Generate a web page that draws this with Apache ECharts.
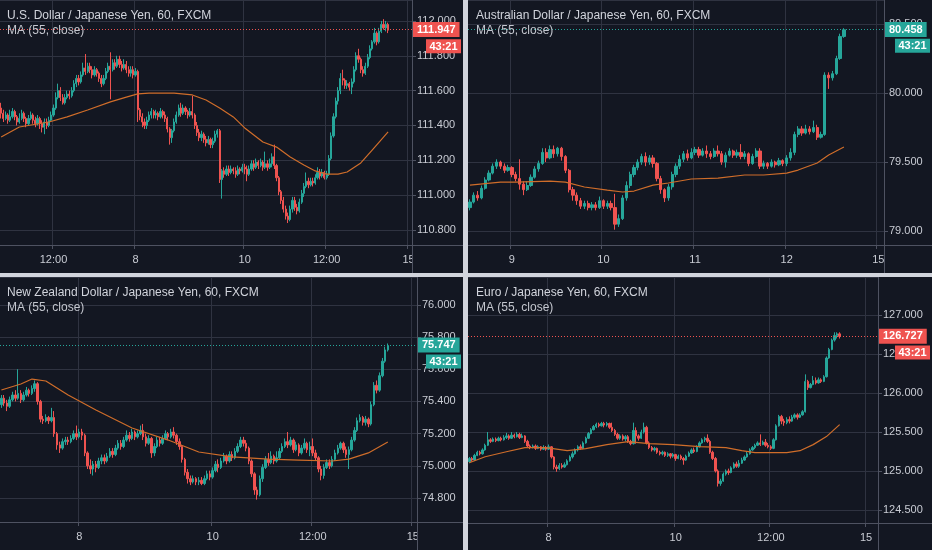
<!DOCTYPE html>
<html><head><meta charset="utf-8">
<script src="https://cdn.jsdelivr.net/npm/echarts@6/dist/echarts.min.js"></script>
<style>html,body{margin:0;padding:0;background:#131722;}#c{width:932px;height:550px;}</style>
</head><body><div id="c"></div>
<script>
// ---------- DATA ----------
const countdown = '43:21';
const maLabel = 'MA (55, close)';

const usdTitle = 'U.S. Dollar / Japanese Yen, 60, FXCM';
const usdBars = 181;
const usdTickIdx = [23, 59, 107, 143, 179];
const usdTickTxt = ['12:00', '8', '10', '12:00', '15'];
const usdCandles = [
[111.50,111.47,111.44,111.53],[111.47,111.44,111.42,111.49],[111.44,111.46,111.43,111.48],[111.46,111.43,111.41,111.47],
[111.43,111.45,111.42,111.49],[111.45,111.48,111.44,111.50],[111.48,111.45,111.43,111.49],[111.45,111.42,111.40,111.46],
[111.42,111.44,111.41,111.47],[111.44,111.47,111.43,111.49],[111.47,111.44,111.42,111.48],[111.44,111.41,111.39,111.45],
[111.41,111.44,111.40,111.46],[111.44,111.46,111.43,111.48],[111.46,111.43,111.41,111.47],[111.43,111.41,111.39,111.45],
[111.41,111.44,111.40,111.46],[111.44,111.41,111.38,111.45],[111.41,111.39,111.36,111.43],[111.39,111.42,111.35,111.44],
[111.42,111.40,111.38,111.44],[111.40,111.43,111.39,111.45],[111.43,111.46,111.42,111.48],[111.46,111.50,111.45,111.52],
[111.50,111.56,111.49,111.59],[111.56,111.60,111.55,111.64],[111.60,111.56,111.54,111.62],[111.56,111.53,111.52,111.58],
[111.53,111.56,111.52,111.58],[111.56,111.58,111.55,111.60],[111.58,111.57,111.55,111.60],[111.57,111.60,111.56,111.62],
[111.60,111.64,111.59,111.66],[111.64,111.67,111.62,111.69],[111.67,111.65,111.63,111.69],[111.65,111.69,111.64,111.71],
[111.69,111.73,111.68,111.76],[111.73,111.71,111.69,111.81],[111.71,111.74,111.70,111.76],[111.74,111.72,111.70,111.76],
[111.72,111.69,111.67,111.74],[111.69,111.72,111.68,111.74],[111.72,111.70,111.68,111.73],[111.70,111.67,111.65,111.71],
[111.67,111.64,111.62,111.69],[111.64,111.67,111.63,111.69],[111.67,111.71,111.66,111.73],[111.71,111.74,111.70,111.76],
[111.74,111.72,111.55,111.82],[111.72,111.76,111.71,111.78],[111.76,111.74,111.72,111.78],[111.74,111.78,111.73,111.80],
[111.78,111.75,111.73,111.80],[111.75,111.73,111.71,111.77],[111.73,111.75,111.72,111.78],[111.75,111.72,111.70,111.77],
[111.72,111.70,111.68,111.74],[111.70,111.72,111.68,111.74],[111.72,111.69,111.67,111.74],[111.69,111.71,111.68,111.73],
[111.71,111.49,111.42,111.72],[111.49,111.45,111.43,111.50],[111.45,111.42,111.39,111.47],[111.42,111.40,111.38,111.44],
[111.40,111.43,111.38,111.45],[111.43,111.46,111.42,111.48],[111.46,111.48,111.44,111.50],[111.48,111.46,111.44,111.49],
[111.46,111.47,111.44,111.49],[111.47,111.45,111.43,111.48],[111.45,111.48,111.44,111.50],[111.48,111.46,111.44,111.49],
[111.46,111.44,111.42,111.48],[111.44,111.38,111.36,111.45],[111.38,111.33,111.29,111.39],[111.33,111.37,111.30,111.38],
[111.37,111.42,111.36,111.44],[111.42,111.46,111.41,111.48],[111.46,111.50,111.45,111.52],[111.50,111.47,111.45,111.53],
[111.47,111.50,111.46,111.52],[111.50,111.48,111.46,111.51],[111.48,111.46,111.44,111.49],[111.46,111.48,111.45,111.50],
[111.48,111.46,111.44,111.57],[111.46,111.40,111.38,111.47],[111.40,111.36,111.34,111.42],[111.36,111.33,111.31,111.38],
[111.33,111.35,111.31,111.37],[111.35,111.32,111.30,111.36],[111.32,111.30,111.28,111.34],[111.30,111.32,111.29,111.34],
[111.32,111.29,111.27,111.33],[111.29,111.31,111.27,111.33],[111.31,111.35,111.30,111.37],[111.35,111.37,111.33,111.38],
[111.37,111.09,111.07,111.38],[111.09,111.14,110.98,111.15],[111.14,111.12,111.10,111.16],[111.12,111.15,111.11,111.17],
[111.15,111.13,111.11,111.17],[111.13,111.15,111.12,111.17],[111.15,111.14,111.12,111.16],[111.14,111.12,111.10,111.16],
[111.12,111.15,111.11,111.17],[111.15,111.14,111.12,111.16],[111.14,111.16,111.13,111.18],[111.16,111.15,111.12,111.18],
[111.15,111.12,111.08,111.17],[111.12,111.15,111.11,111.17],[111.15,111.18,111.14,111.20],[111.18,111.16,111.14,111.20],
[111.16,111.19,111.15,111.21],[111.19,111.17,111.15,111.20],[111.17,111.19,111.16,111.21],[111.19,111.16,111.14,111.20],
[111.16,111.18,111.15,111.25],[111.18,111.16,111.14,111.20],[111.16,111.18,111.15,111.21],[111.18,111.22,111.16,111.24],
[111.22,111.17,111.15,111.29],[111.17,111.10,111.08,111.18],[111.10,111.02,111.00,111.11],[111.02,110.97,110.95,111.03],
[110.97,110.92,110.90,110.99],[110.92,110.88,110.86,110.94],[110.88,110.86,110.84,110.90],[110.86,110.92,110.85,110.94],
[110.92,110.97,110.90,110.99],[110.97,110.93,110.91,110.99],[110.93,110.91,110.89,110.95],[110.91,110.96,110.90,110.98],
[110.96,111.01,110.95,111.03],[111.01,111.05,110.99,111.07],[111.05,111.08,111.04,111.13],[111.08,111.06,111.04,111.10],
[111.06,111.08,111.05,111.10],[111.08,111.07,111.05,111.10],[111.07,111.10,111.06,111.12],[111.10,111.13,111.09,111.16],
[111.13,111.11,111.09,111.15],[111.11,111.13,111.10,111.15],[111.13,111.10,111.09,111.14],[111.10,111.12,111.09,111.14],
[111.12,111.21,111.11,111.23],[111.21,111.34,111.20,111.36],[111.34,111.45,111.33,111.47],[111.45,111.54,111.44,111.56],
[111.54,111.60,111.52,111.62],[111.60,111.67,111.58,111.70],[111.67,111.66,111.63,111.72],[111.66,111.63,111.61,111.67],
[111.63,111.64,111.61,111.66],[111.64,111.62,111.60,111.65],[111.62,111.65,111.58,111.67],[111.65,111.72,111.64,111.74],
[111.72,111.80,111.71,111.82],[111.80,111.78,111.76,111.84],[111.78,111.72,111.70,111.79],[111.72,111.70,111.68,111.74],
[111.70,111.74,111.69,111.76],[111.74,111.79,111.73,111.81],[111.79,111.84,111.78,111.86],[111.84,111.88,111.83,111.89],
[111.88,111.93,111.87,111.96],[111.93,111.88,111.86,111.94],[111.88,111.94,111.87,111.96],[111.94,111.98,111.93,112.00],
[111.98,111.96,111.95,112.01],[111.96,111.98,111.94,112.00],[111.98,111.947,111.93,111.99]
];
const usdMA = [[0,111.334],[8,111.391],[21,111.420],[29,111.449],[38,111.489],[48,111.535],[55,111.563],[60,111.581],
[65,111.586],[76,111.586],[84,111.575],[90,111.546],[96,111.500],[102,111.449],[107,111.386],[115,111.305],[121,111.276],
[127,111.219],[133,111.173],[138,111.139],[143,111.121],[148,111.121],[152,111.133],[158,111.185],[163,111.259],[170,111.363]];

const audTitle = 'Australian Dollar / Japanese Yen, 60, FXCM';
const audBars = 109;
const audTickIdx = [11, 35, 59, 83, 107];
const audTickTxt = ['9', '10', '11', '12', '15'];
const audCandles = [
[79.17,79.21,79.15,79.23],[79.21,79.26,79.20,79.28],[79.26,79.24,79.22,79.29],[79.24,79.31,79.23,79.33],
[79.31,79.37,79.30,79.39],[79.37,79.42,79.36,79.44],[79.42,79.47,79.41,79.49],[79.47,79.50,79.45,79.52],
[79.50,79.47,79.45,79.51],[79.47,79.44,79.42,79.49],[79.44,79.46,79.43,79.48],[79.46,79.41,79.39,79.47],
[79.41,79.38,79.36,79.43],[79.38,79.34,79.30,79.52],[79.34,79.30,79.26,79.36],[79.30,79.33,79.29,79.36],
[79.33,79.39,79.32,79.41],[79.39,79.45,79.38,79.47],[79.45,79.49,79.43,79.51],[79.49,79.57,79.48,79.60],
[79.57,79.53,79.50,79.60],[79.53,79.59,79.52,79.62],[79.59,79.56,79.53,79.62],[79.56,79.60,79.54,79.61],
[79.60,79.54,79.51,79.61],[79.54,79.44,79.42,79.55],[79.44,79.30,79.28,79.45],[79.30,79.26,79.22,79.32],
[79.26,79.22,79.19,79.28],[79.22,79.18,79.16,79.24],[79.18,79.20,79.16,79.22],[79.20,79.17,79.15,79.22],
[79.17,79.19,79.15,79.21],[79.19,79.17,79.15,79.21],[79.17,79.22,79.16,79.25],[79.22,79.18,79.16,79.23],
[79.18,79.20,79.16,79.22],[79.20,79.17,79.15,79.22],[79.17,79.05,79.01,79.27],[79.05,79.09,79.03,79.12],
[79.09,79.24,79.08,79.26],[79.24,79.33,79.22,79.36],[79.33,79.41,79.31,79.43],[79.41,79.46,79.39,79.48],
[79.46,79.50,79.44,79.52],[79.50,79.54,79.48,79.56],[79.54,79.50,79.47,79.57],[79.50,79.53,79.48,79.55],
[79.53,79.49,79.46,79.55],[79.49,79.38,79.36,79.50],[79.38,79.30,79.27,79.40],[79.30,79.24,79.21,79.31],
[79.24,79.32,79.22,79.34],[79.32,79.41,79.30,79.43],[79.41,79.47,79.39,79.49],[79.47,79.52,79.45,79.55],
[79.52,79.56,79.50,79.58],[79.56,79.53,79.51,79.59],[79.53,79.57,79.52,79.60],[79.57,79.59,79.55,79.61],
[79.59,79.55,79.53,79.61],[79.55,79.58,79.54,79.60],[79.58,79.56,79.53,79.62],[79.56,79.54,79.52,79.58],
[79.54,79.58,79.53,79.60],[79.58,79.56,79.54,79.62],[79.56,79.50,79.48,79.58],[79.50,79.55,79.46,79.57],
[79.55,79.58,79.54,79.60],[79.58,79.55,79.53,79.59],[79.55,79.57,79.53,79.59],[79.57,79.54,79.52,79.63],
[79.54,79.56,79.52,79.58],[79.56,79.49,79.47,79.57],[79.49,79.54,79.48,79.56],[79.54,79.58,79.53,79.60],
[79.58,79.47,79.45,79.60],[79.47,79.49,79.45,79.51],[79.49,79.47,79.45,79.50],[79.47,79.50,79.46,79.52],
[79.50,79.48,79.46,79.51],[79.48,79.51,79.47,79.53],[79.51,79.49,79.47,79.52],[79.49,79.53,79.47,79.55],
[79.53,79.57,79.51,79.60],[79.57,79.70,79.55,79.72],[79.70,79.74,79.68,79.76],[79.74,79.71,79.69,79.76],
[79.71,79.74,79.70,79.77],[79.74,79.72,79.70,79.76],[79.72,79.75,79.71,79.80],[79.75,79.68,79.66,79.77],
[79.68,79.70,79.67,79.72],[79.70,80.13,79.69,80.15],[80.13,80.11,80.03,80.15],[80.11,80.14,80.09,80.16],
[80.14,80.25,80.13,80.27],[80.25,80.41,80.24,80.43],[80.41,80.458,80.40,80.47]
];
const audMA = [[0,79.333],[8,79.355],[12,79.355],[21,79.362],[25,79.355],[30,79.319],[36,79.297],[40,79.283],[43,79.290],
[48,79.333],[52,79.348],[58,79.377],[65,79.384],[72,79.406],[77,79.406],[83,79.420],[86,79.442],[91,79.493],[94,79.551],[98,79.609]];

const nzdTitle = 'New Zealand Dollar / Japanese Yen, 60, FXCM';
const nzdBars = 150;
const nzdTickIdx = [28, 76, 112, 148];
const nzdTickTxt = ['8', '10', '12:00', '15'];
const nzdCandles = [
[75.38,75.42,75.36,75.44],[75.42,75.39,75.37,75.44],[75.39,75.37,75.34,75.41],[75.37,75.41,75.36,75.43],
[75.41,75.44,75.40,75.46],[75.44,75.42,75.40,75.47],[75.42,75.45,75.41,75.60],[75.45,75.41,75.39,75.47],
[75.41,75.44,75.40,75.46],[75.44,75.47,75.43,75.49],[75.47,75.45,75.43,75.48],[75.45,75.48,75.44,75.50],
[75.48,75.51,75.46,75.53],[75.51,75.40,75.38,75.52],[75.40,75.29,75.27,75.41],[75.29,75.28,75.26,75.31],
[75.28,75.30,75.27,75.32],[75.30,75.28,75.26,75.31],[75.28,75.30,75.27,75.36],[75.30,75.20,75.18,75.34],
[75.20,75.13,75.10,75.21],[75.13,75.11,75.08,75.15],[75.11,75.15,75.10,75.17],[75.15,75.16,75.13,75.18],
[75.16,75.15,75.13,75.18],[75.15,75.17,75.14,75.19],[75.17,75.20,75.16,75.22],[75.20,75.18,75.16,75.25],
[75.18,75.21,75.17,75.23],[75.21,75.19,75.16,75.23],[75.19,75.08,75.06,75.20],[75.08,75.00,74.98,75.09],
[75.00,74.98,74.95,75.04],[74.98,75.01,74.94,75.03],[75.01,74.99,74.96,75.03],[74.99,75.03,74.98,75.05],
[75.03,75.05,75.01,75.07],[75.05,75.03,75.01,75.07],[75.03,75.06,75.02,75.08],[75.06,75.09,75.05,75.11],
[75.09,75.07,75.05,75.11],[75.07,75.11,75.06,75.13],[75.11,75.14,75.10,75.16],[75.14,75.12,75.10,75.16],
[75.12,75.16,75.11,75.18],[75.16,75.19,75.15,75.22],[75.19,75.17,75.15,75.21],[75.17,75.21,75.16,75.23],
[75.21,75.18,75.16,75.22],[75.18,75.20,75.17,75.22],[75.20,75.22,75.19,75.25],[75.22,75.18,75.16,75.26],
[75.18,75.14,75.12,75.20],[75.14,75.17,75.13,75.19],[75.17,75.08,75.05,75.18],[75.08,75.12,75.06,75.14],
[75.12,75.16,75.11,75.18],[75.16,75.14,75.12,75.18],[75.14,75.17,75.13,75.19],[75.17,75.20,75.16,75.22],
[75.20,75.18,75.16,75.21],[75.18,75.21,75.17,75.23],[75.21,75.19,75.17,75.24],[75.19,75.15,75.13,75.20],
[75.15,75.12,75.10,75.17],[75.12,75.04,75.02,75.13],[75.04,74.96,74.94,75.05],[74.96,74.92,74.89,74.98],
[74.92,74.90,74.88,74.94],[74.90,74.92,74.89,74.94],[74.92,74.90,74.88,74.93],[74.90,74.91,74.88,74.93],
[74.91,74.89,74.88,74.93],[74.89,74.92,74.88,74.94],[74.92,74.95,74.91,74.97],[74.95,74.93,74.91,74.97],
[74.93,74.97,74.92,74.99],[74.97,75.01,74.96,75.03],[75.01,74.99,74.96,75.04],[74.99,75.03,74.98,75.05],
[75.03,75.06,75.02,75.08],[75.06,75.03,75.01,75.07],[75.03,75.07,75.02,75.09],[75.07,75.05,75.03,75.09],
[75.05,75.09,75.04,75.11],[75.09,75.12,75.08,75.14],[75.12,75.16,75.11,75.18],[75.16,75.14,75.12,75.18],
[75.14,75.11,75.09,75.16],[75.11,75.03,75.01,75.12],[75.03,74.95,74.93,75.04],[74.95,74.85,74.82,74.96],
[74.85,74.82,74.79,74.87],[74.82,74.92,74.81,74.94],[74.92,74.99,74.90,75.01],[74.99,75.04,74.98,75.06],
[75.04,75.02,75.00,75.08],[75.02,75.06,75.01,75.09],[75.06,75.03,75.01,75.07],[75.03,75.05,75.02,75.09],
[75.05,75.09,75.04,75.11],[75.09,75.12,75.08,75.14],[75.12,75.15,75.11,75.17],[75.15,75.13,75.11,75.21],
[75.13,75.16,75.12,75.18],[75.16,75.10,75.08,75.17],[75.10,75.13,75.09,75.15],[75.13,75.08,75.06,75.14],
[75.08,75.11,75.07,75.13],[75.11,75.14,75.10,75.17],[75.14,75.10,75.08,75.15],[75.10,75.12,75.06,75.15],
[75.12,75.08,75.06,75.17],[75.08,75.05,75.03,75.10],[75.05,74.98,74.96,75.06],[74.98,74.94,74.91,75.00],
[74.94,74.99,74.92,75.01],[74.99,75.02,74.98,75.04],[75.02,75.00,74.98,75.04],[75.00,75.04,74.99,75.06],
[75.04,75.08,75.03,75.10],[75.08,75.11,75.07,75.13],[75.11,75.14,75.10,75.15],[75.14,75.10,75.08,75.15],
[75.10,75.07,75.05,75.12],[75.07,75.10,74.98,75.12],[75.10,75.16,75.09,75.18],[75.16,75.22,75.15,75.24],
[75.22,75.28,75.21,75.30],[75.28,75.30,75.27,75.32],[75.30,75.27,75.25,75.31],[75.27,75.29,75.25,75.31],
[75.29,75.26,75.24,75.30],[75.26,75.38,75.25,75.40],[75.38,75.50,75.37,75.52],[75.50,75.47,75.45,75.53],
[75.47,75.56,75.46,75.58],[75.56,75.65,75.55,75.67],[75.65,75.72,75.64,75.74],[75.72,75.747,75.71,75.76]
];
const nzdMA = [[0,75.471],[7,75.508],[11,75.539],[16,75.527],[24,75.440],[34,75.347],[47,75.235],[60,75.160],[71,75.086],
[83,75.055],[96,75.042],[107,75.036],[119,75.030],[125,75.042],[132,75.080],[139,75.148]];

const eurTitle = 'Euro / Japanese Yen, 60, FXCM';
const eurBars = 155;
const eurTickIdx = [30, 78, 114, 150];
const eurTickTxt = ['8', '10', '12:00', '15'];
const eurCandles = [
[125.12,125.16,125.10,125.18],[125.16,125.14,125.12,125.18],[125.14,125.20,125.13,125.22],[125.20,125.24,125.19,125.26],
[125.24,125.22,125.20,125.26],[125.22,125.27,125.21,125.29],[125.27,125.33,125.26,125.35],[125.33,125.40,125.32,125.50],
[125.40,125.38,125.36,125.42],[125.38,125.41,125.37,125.43],[125.41,125.39,125.37,125.43],[125.39,125.42,125.38,125.44],
[125.42,125.40,125.38,125.44],[125.40,125.43,125.39,125.46],[125.43,125.45,125.41,125.49],[125.45,125.42,125.40,125.47],
[125.42,125.46,125.41,125.50],[125.46,125.44,125.42,125.48],[125.44,125.47,125.43,125.50],[125.47,125.43,125.41,125.49],
[125.43,125.45,125.42,125.48],[125.45,125.38,125.36,125.46],[125.38,125.32,125.30,125.40],[125.32,125.30,125.28,125.34],
[125.30,125.32,125.29,125.34],[125.32,125.29,125.27,125.34],[125.29,125.31,125.28,125.33],[125.31,125.28,125.26,125.32],
[125.28,125.30,125.27,125.33],[125.30,125.28,125.26,125.32],[125.28,125.31,125.27,125.34],[125.31,125.18,125.16,125.32],
[125.18,125.05,125.02,125.19],[125.05,125.03,124.99,125.08],[125.03,125.07,125.01,125.10],[125.07,125.05,125.03,125.10],
[125.05,125.08,125.04,125.11],[125.08,125.13,125.07,125.15],[125.13,125.18,125.12,125.20],[125.18,125.22,125.16,125.25],
[125.22,125.27,125.21,125.29],[125.27,125.31,125.25,125.33],[125.31,125.29,125.27,125.34],[125.29,125.36,125.28,125.38],
[125.36,125.42,125.35,125.44],[125.42,125.48,125.41,125.50],[125.48,125.53,125.47,125.55],[125.53,125.57,125.52,125.59],
[125.57,125.60,125.55,125.62],[125.60,125.58,125.56,125.62],[125.58,125.61,125.57,125.63],[125.61,125.59,125.56,125.63],
[125.59,125.61,125.57,125.63],[125.61,125.56,125.54,125.62],[125.56,125.52,125.50,125.62],[125.52,125.47,125.45,125.54],
[125.47,125.42,125.40,125.49],[125.42,125.45,125.40,125.47],[125.45,125.41,125.39,125.47],[125.41,125.44,125.38,125.46],
[125.44,125.38,125.36,125.46],[125.38,125.35,125.33,125.40],[125.35,125.52,125.34,125.62],[125.52,125.45,125.35,125.56],
[125.45,125.42,125.39,125.47],[125.42,125.50,125.41,125.53],[125.50,125.56,125.48,125.62],[125.56,125.36,125.34,125.58],
[125.36,125.30,125.28,125.38],[125.30,125.27,125.25,125.32],[125.27,125.29,125.25,125.31],[125.29,125.24,125.22,125.30],
[125.24,125.22,125.20,125.26],[125.22,125.24,125.20,125.26],[125.24,125.20,125.18,125.25],[125.20,125.22,125.18,125.24],
[125.22,125.19,125.16,125.23],[125.19,125.21,125.17,125.23],[125.21,125.16,125.13,125.22],[125.16,125.19,125.15,125.21],
[125.19,125.16,125.14,125.21],[125.16,125.14,125.08,125.18],[125.14,125.19,125.13,125.21],[125.19,125.23,125.18,125.25],
[125.23,125.27,125.22,125.29],[125.27,125.25,125.23,125.30],[125.25,125.31,125.24,125.33],[125.31,125.36,125.30,125.38],
[125.36,125.40,125.35,125.42],[125.40,125.42,125.37,125.44],[125.42,125.38,125.36,125.47],[125.38,125.24,125.22,125.40],
[125.24,125.16,125.14,125.26],[125.16,125.00,124.98,125.18],[125.00,124.84,124.80,125.02],[124.84,124.87,124.81,124.90],
[124.87,124.96,124.86,124.98],[124.96,125.00,124.94,125.02],[125.00,124.98,124.95,125.03],[124.98,125.04,124.97,125.06],
[125.04,125.09,125.03,125.11],[125.09,125.06,125.04,125.12],[125.06,125.10,125.04,125.14],[125.10,125.14,125.09,125.17],
[125.14,125.18,125.13,125.20],[125.18,125.22,125.17,125.25],[125.22,125.27,125.21,125.29],[125.27,125.30,125.26,125.32],
[125.30,125.33,125.28,125.35],[125.33,125.36,125.32,125.38],[125.36,125.34,125.32,125.47],[125.34,125.37,125.33,125.39],
[125.37,125.33,125.31,125.41],[125.33,125.31,125.29,125.36],[125.31,125.29,125.27,125.33],[125.29,125.40,125.28,125.42],
[125.40,125.58,125.39,125.60],[125.58,125.70,125.57,125.72],[125.70,125.64,125.60,125.72],[125.64,125.62,125.58,125.67],
[125.62,125.66,125.60,125.69],[125.66,125.64,125.61,125.70],[125.64,125.69,125.63,125.72],[125.69,125.72,125.67,125.74],
[125.72,125.69,125.66,125.74],[125.69,125.72,125.68,125.74],[125.72,125.76,125.71,125.78],[125.76,126.15,125.75,126.24],
[126.15,126.07,126.04,126.17],[126.07,126.11,126.06,126.13],[126.11,126.16,126.10,126.22],[126.16,126.13,126.11,126.20],
[126.13,126.17,126.12,126.20],[126.17,126.15,126.13,126.19],[126.15,126.21,126.14,126.23],[126.21,126.45,126.20,126.47],
[126.45,126.56,126.44,126.58],[126.56,126.68,126.55,126.70],[126.68,126.74,126.66,126.78],[126.74,126.76,126.70,126.78],
[126.76,126.727,126.70,126.78]
];
const eurMA = [[0,125.106],[6,125.183],[14,125.247],[21,125.299],[29,125.299],[37,125.260],[44,125.286],[52,125.338],
[60,125.376],[68,125.351],[77,125.338],[87,125.312],[97,125.299],[103,125.260],[108,125.235],[115,125.235],[120,125.235],
[125,125.260],[130,125.338],[135,125.441],[140,125.595]];

// ---------- LAYOUT / STYLE ----------
const BG = '#131722', GRID = '#2f3341', AXIS = '#4e5261', LABEL = '#c9ccd4', UP = '#26a69a', DOWN = '#ef5350', MA = '#cf6d2a';
const FONT = 'Liberation Sans, Arial, sans-serif';
const layout = [
  {left:0, top:0, width:412, height:245, min:110.714, max:112.120, step:0.2, panelRight:463, panelBottom:273, tl:7, tt:10},
  {left:468, top:0, width:416, height:245, min:78.899, max:80.674, step:0.5, panelRight:932, panelBottom:273, tl:476, tt:10},
  {left:0, top:277, width:417, height:245, min:74.651, max:76.173, step:0.2, panelRight:463, panelBottom:550, tl:7, tt:287},
  {left:468, top:277, width:410, height:246, min:124.332, max:127.49, step:0.5, panelRight:932, panelBottom:550, tl:476, tt:287}
];
const panels = [
  {title:usdTitle, candles:usdCandles, ma:usdMA, bars:usdBars, tickIdx:usdTickIdx, tickTxt:usdTickTxt},
  {title:audTitle, candles:audCandles, ma:audMA, bars:audBars, tickIdx:audTickIdx, tickTxt:audTickTxt},
  {title:nzdTitle, candles:nzdCandles, ma:nzdMA, bars:nzdBars, tickIdx:nzdTickIdx, tickTxt:nzdTickTxt},
  {title:eurTitle, candles:eurCandles, ma:eurMA, bars:eurBars, tickIdx:eurTickIdx, tickTxt:eurTickTxt}
];

const option = {
  backgroundColor: BG, animation: false,
  textStyle: {fontFamily: FONT},
  title: [], grid: [], xAxis: [], yAxis: [], series: []
};

panels.forEach((p, k) => {
  const L = layout[k];
  const cats = Array.from({length: p.bars}, (_, i) => String(i));
  const isTick = (i) => p.tickIdx.indexOf(i) >= 0;
  const last = p.candles[p.candles.length - 1];
  const lastCol = last[1] >= last[0] ? UP : DOWN;
  option.title.push({
    text: p.title, subtext: maLabel, left: L.tl, top: L.tt, itemGap: 3, padding: 0,
    textStyle: {color: '#d1d4dc', fontSize: 12, fontWeight: 'normal', fontFamily: FONT},
    subtextStyle: {color: '#c3c6ce', fontSize: 12, fontFamily: FONT}
  });
  option.grid.push({left: L.left, top: L.top, width: L.width, height: L.height});
  option.xAxis.push({
    type: 'category', gridIndex: k, data: cats, boundaryGap: true,
    axisLine: {lineStyle: {color: AXIS}},
    axisTick: {show: true, length: 4, interval: isTick, lineStyle: {color: AXIS}},
    axisLabel: {interval: isTick, color: LABEL, fontSize: 11, margin: 9, fontFamily: FONT,
      formatter: (v) => p.tickTxt[p.tickIdx.indexOf(Number(v))] || ''},
    splitLine: {show: true, interval: isTick, lineStyle: {color: GRID, width: 1}}
  });
  option.yAxis.push({
    type: 'value', gridIndex: k, position: 'right', min: L.min, max: L.max, scale: true,
    minInterval: L.step, maxInterval: L.step,
    axisLine: {show: true, lineStyle: {color: AXIS}},
    axisTick: {show: true, length: 4, lineStyle: {color: AXIS}},
    axisLabel: {showMinLabel: false, showMaxLabel: false, color: LABEL, fontSize: 11, margin: 5, fontFamily: FONT,
      formatter: (v) => v.toFixed(3)},
    splitLine: {show: true, lineStyle: {color: GRID, width: 1}}
  });
  option.series.push({
    type: 'candlestick', xAxisIndex: k, yAxisIndex: k, data: p.candles, barWidth: '72%',
    itemStyle: {color: UP, color0: DOWN, borderColor: UP, borderColor0: DOWN, borderWidth: 1},
    markLine: {
      symbol: ['none', 'none'], silent: true, animation: false,
      data: [{yAxis: last[1]}],
      lineStyle: {type: [1, 2], color: lastCol, width: 1, opacity: 1},
      label: {show: true, position: 'end', distance: 1, formatter: last[1].toFixed(3),
        backgroundColor: lastCol, color: '#ffffff', fontSize: 11, fontWeight: 'bold', fontFamily: FONT,
        padding: [2, 4, 1, 4], lineHeight: 12}
    }
  });
  option.series.push({
    type: 'line', xAxisIndex: k, yAxisIndex: k, data: p.ma, symbol: 'none', silent: true, z: 3,
    lineStyle: {color: MA, width: 1.2}
  });
});

const chart = echarts.init(document.getElementById('c'), null, {renderer: 'canvas'});
chart.setOption(option);

const g = [];
layout.forEach((L, k) => {
  const gr = L.left + L.width, gb = L.top + L.height;
  g.push({type: 'rect', z: 50, shape: {x: gr + 1, y: gb + 1, width: L.panelRight - gr - 1, height: L.panelBottom - gb - 1}, style: {fill: BG}});
  g.push({type: 'line', z: 51, shape: {x1: gr + 0.5, y1: gb, x2: gr + 0.5, y2: L.panelBottom}, style: {stroke: AXIS, lineWidth: 1}});
  g.push({type: 'line', z: 51, shape: {x1: gr, y1: gb + 0.5, x2: L.panelRight, y2: gb + 0.5}, style: {stroke: AXIS, lineWidth: 1}});
  const p = panels[k];
  const last = p.candles[p.candles.length - 1];
  const col = last[1] >= last[0] ? UP : DOWN;
  const y = chart.convertToPixel({yAxisIndex: k}, last[1]);
  const tx = L.panelRight - 37;
  g.push({type: 'rect', z: 100, shape: {x: tx, y: y + 9, width: 35, height: 14}, style: {fill: col}});
  g.push({type: 'text', z: 101, x: tx + 17.5, y: y + 16.5,
    style: {text: countdown, fill: '#ffffff', font: 'bold 11px ' + FONT, align: 'center', verticalAlign: 'middle'}});
});
g.push({type: 'rect', z: 60, shape: {x: 463, y: 0, width: 5, height: 550}, style: {fill: '#d1d4dc'}});
g.push({type: 'rect', z: 60, shape: {x: 0, y: 273, width: 932, height: 4}, style: {fill: '#d1d4dc'}});
chart.setOption({graphic: g});
</script>
</body></html>
